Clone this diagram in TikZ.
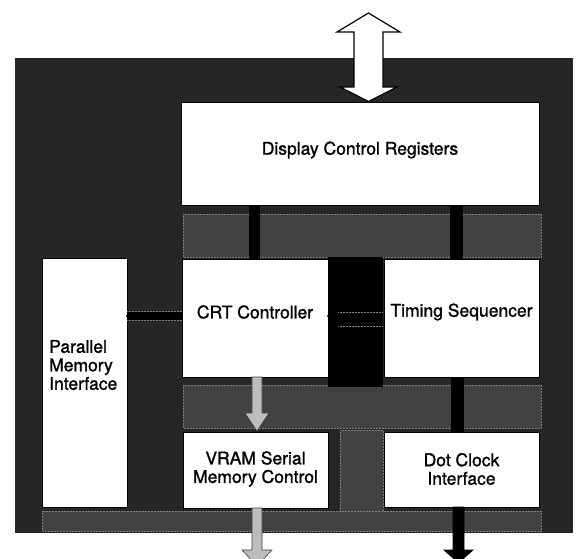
\documentclass[tikz,border=0pt]{standalone}
\usepackage{fontspec}
\setmainfont{TeX Gyre Heros}[BoldFont={TeX Gyre Heros}, BoldFeatures={FakeBold=1.3}]
\definecolor{bgdark}{gray}{0.15}
\definecolor{chan}{gray}{0.26}
\definecolor{chanedge}{gray}{0.50}
\definecolor{arrowgray}{gray}{0.74}
\tikzset{
  blockbox/.style={draw=black, line width=1pt, fill=white, inner sep=0pt},
  lbl/.style={font=\bfseries\fontsize{17.5}{18.5}\selectfont, align=center, inner sep=0pt},
  channel/.style={fill=chan, draw=chanedge, line width=0.5pt, densely dotted},
  busbar/.style={fill=black, draw=none},
  grayarrow/.style={fill=arrowgray, draw=black!75, line width=0.6pt, line join=miter},
  blackarrow/.style={fill=black, draw=black, line width=0.6pt},
  bigarrow/.style={fill=white, draw=black, line width=1.2pt, line join=miter}
}
\begin{document}
\begin{tikzpicture}[x=1pt,y=-1pt]
\useasboundingbox (0,0) rectangle (576,558);
\begin{scope}
\clip (0,0) rectangle (576,558);
% dark chip body
\fill[bgdark] (15,58) rectangle (573,533);
% lighter channels
\draw[channel] (183,214) rectangle (541,257);
\draw[channel] (183,385) rectangle (541,428);
\draw[channel] (42,511) rectangle (541,531);
\draw[channel] (340,430) rectangle (383,511);
% black column between CRT and Timing
\fill[black] (328,257) rectangle (383,387);
\draw[chanedge, line width=0.5pt, densely dotted] (338,312) -- (383,312);
\draw[chanedge, line width=0.5pt, densely dotted] (338,326) -- (383,326);

% blocks
\node[blockbox, minimum width=358pt, minimum height=103pt] (dcr) at (360,153.5) {};
\node[blockbox, minimum width=85pt, minimum height=249pt] (pmi) at (84.5,382.5) {};
\node[blockbox, minimum width=146pt, minimum height=118pt] (crt) at (255,318) {};
\node[blockbox, minimum width=155pt, minimum height=118pt] (ts) at (461.5,318) {};
\node[blockbox, minimum width=145pt, minimum height=76pt] (vram) at (255.5,470) {};
\node[blockbox, minimum width=155pt, minimum height=75pt] (dot) at (461.5,469.5) {};

% labels
\node[lbl] (dcrT) at (360,150) {Display Control Registers};
\node[lbl, anchor=west, align=left] (pmiT) at (49,365) {Parallel\\Memory\\Interface};
\node[lbl] (crtT) at (255,312) {CRT Controller};
\node[lbl] (tsT) at (461.5,312) {Timing Sequencer};
\node[lbl] (vramT) at (255.5,469) {VRAM Serial\\Memory Control};
\node[lbl] (dotT) at (461.5,469) {Dot Clock\\Interface};

% black bus bars
\fill[busbar] (249,205) rectangle (260,259);
\fill[busbar] (450,205) rectangle (463,259);
\fill[busbar] (451,377) rectangle (464,432);
\draw[chanedge, line width=0.5pt, densely dotted] (127,311) -- (182,311);
\draw[chanedge, line width=0.5pt, densely dotted] (127,320) -- (182,320);
\fill[busbar] (127,311.5) rectangle (182,319.5);
\fill[black] (crt.east |- crtT) ++(0,4) circle (1.6pt);
\fill[black] (pmi.east |- crtT) ++(0,4) circle (1.6pt);

% host bus double arrow into the Display Control Registers
\coordinate (hostTip) at (368.5,13);
\draw[bigarrow] (hostTip) -- (400,32) -- (383,32) -- (383,87) -- (397,87)
  -- (hostTip |- dcr.north) -- (340,87) -- (354,87) -- (354,32) -- (337,32) -- cycle;

% CRT controller -> VRAM serial memory control
\draw[grayarrow] (252,377) -- (252,413) -- (245,413) -- (257,431) -- (269,413)
  -- (262,413) -- (262,377) -- cycle;
% VRAM serial memory control -> out
\coordinate (vramOut) at (257,566);
\draw[grayarrow] (252,508) -- (252,550) -- (242,550) -- (vramOut) -- (272,550)
  -- (262,550) -- (262,508) -- cycle;
% Dot clock interface -> out
\coordinate (dotOut) at (458.5,563);
\draw[blackarrow] (453,507) -- (453,550) -- (444,550) -- (dotOut) -- (473,550)
  -- (464,550) -- (464,507) -- cycle;
\end{scope}
\end{tikzpicture}
\end{document}
